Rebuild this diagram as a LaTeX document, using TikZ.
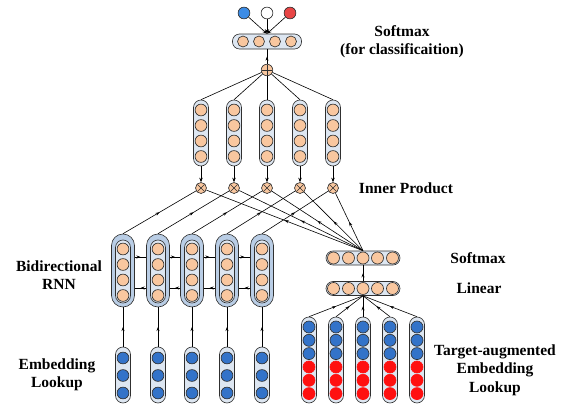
\documentclass[tikz,border=0pt]{standalone}
\usepackage{fontspec}
\setmainfont{Liberation Serif}
\usetikzlibrary{arrows.meta,decorations.markings}
\definecolor{peach}{HTML}{F9C79F}
\definecolor{capfill}{HTML}{DDE6F1}
\definecolor{capdark}{HTML}{B9CDE5}
\definecolor{bluec}{HTML}{3373C9}
\definecolor{redc}{HTML}{FF1010}
\definecolor{topblue}{HTML}{3C8CE6}
\definecolor{topred}{HTML}{E84545}
\definecolor{edge}{HTML}{303030}
\tikzset{
  unit/.style={circle,draw=edge,line width=0.65pt,inner sep=0pt,minimum size=11.8pt},
  pu/.style={unit,fill=peach},
  bu/.style={unit,fill=bluec},
  ru/.style={unit,fill=redc},
  vcap/.style={rectangle,draw=edge,line width=0.6pt,fill=capfill,rounded corners=7.5pt,minimum width=15pt,inner sep=0pt},
  ocap/.style={rectangle,draw=edge,line width=0.6pt,fill=capdark,rounded corners=11.5pt,minimum width=23pt,minimum height=73pt,inner sep=0pt},
  hcap/.style={rectangle,draw=edge,line width=0.6pt,fill=capfill,rounded corners=7pt,minimum height=14pt,inner sep=0pt},
  conn/.style={draw=black,line width=0.6pt},
  tipend/.style={conn,-{Stealth[length=4.5pt,width=3.5pt]}},
  midarrow/.style={conn,postaction={decorate},decoration={markings,mark=at position 0.5 with {\arrow{Stealth[length=4pt,width=3pt]}}}},
  ot/.style={pu,minimum size=11pt,path picture={
     \draw[edge,line width=0.5pt] ([shift={(-3.6pt,-3.6pt)}]path picture bounding box.center) -- ([shift={(3.6pt,3.6pt)}]path picture bounding box.center);
     \draw[edge,line width=0.5pt] ([shift={(-3.6pt,3.6pt)}]path picture bounding box.center) -- ([shift={(3.6pt,-3.6pt)}]path picture bounding box.center);}},
  op/.style={pu,minimum size=11.5pt,path picture={
     \draw[edge,line width=0.5pt] ([xshift=-5.5pt]path picture bounding box.center) -- ([xshift=5.5pt]path picture bounding box.center);
     \draw[edge,line width=0.5pt] ([yshift=-5.5pt]path picture bounding box.center) -- ([yshift=5.5pt]path picture bounding box.center);}},
  lab/.style={font=\fontsize{15.5}{18.5}\selectfont\bfseries,align=center,inner sep=0pt}
}
\begin{document}
\begin{tikzpicture}[x=1pt,y=-1pt]
\useasboundingbox (0,0) rectangle (566,407);

% top output classes
\node[unit,fill=topblue] (cA) at (244,13) {};
\node[unit,fill=white] (cB) at (267,13) {};
\node[unit,fill=topred] (cC) at (290,13) {};

% top softmax capsule
\node[hcap,minimum width=69pt,minimum height=15pt] (tcap) at (267,41.5) {};
\foreach \k/\x in {1/243,2/259,3/275,4/291} \node[pu,minimum size=11pt] (tc\k) at (\x,41.5) {};

\node[op] (plus) at (267,70) {};

% attention columns
\foreach \i/\x in {1/201,2/234,3/267,4/300,5/333} {
  \node[vcap,minimum height=66pt] (col\i) at (\x,133) {};
  \foreach \j/\y in {1/110,2/125.5,3/141,4/156.5} \node[pu] (col\i u\j) at (\x,\y) {};
  \node[ot] (ot\i) at (\x,188) {};
}

% Bidirectional RNN
\foreach \i/\x in {1/123,2/158,3/192,4/227,5/262} {
  \node[ocap] (rnn\i) at (\x,270.5) {};
  \node[vcap,minimum height=63pt] (rin\i) at (\x,271.5) {};
  \foreach \j/\y in {1/249,2/264.5,3/280,4/295.5} \node[pu] (rnn\i u\j) at (\x,\y) {};
  \node[vcap,minimum height=56pt] (emb\i) at (\x,375) {};
  \foreach \j/\y in {1/358,2/375.5,3/393} \node[bu] (emb\i u\j) at (\x,\y) {};
}

% right softmax and linear
\node[hcap,minimum width=74pt] (smx) at (363,258) {};
\foreach \k/\x in {1/333.5,2/348.5,3/363,4/377.5,5/392.5} \node[pu,minimum size=12pt] (smx\k) at (\x,258) {};
\node[hcap,minimum width=74pt] (lin) at (363,288.5) {};
\foreach \k/\x in {1/333.5,2/348.5,3/363,4/377.5,5/392.5} \node[pu,minimum size=12pt] (lin\k) at (\x,288.5) {};

% target-augmented embeddings
\foreach \i/\x in {1/309,2/336,3/363,4/390,5/417} {
  \node[vcap,minimum height=86pt] (tg\i) at (\x,360) {};
  \foreach \j/\y in {1/327,2/340.3,3/353.6} \node[bu,minimum size=12pt] (tg\i b\j) at (\x,\y) {};
  \foreach \j/\y in {1/367,2/380.3,3/393.6} \node[ru,minimum size=12pt,draw=redc] (tg\i r\j) at (\x,\y) {};
}

% connectors
\foreach \c in {cA,cB,cC} \draw[tipend] (\c) -- (tcap.north);
\draw[midarrow] (plus) -- (tcap);
\foreach \i in {1,...,5} {
  \draw[conn] (plus) -- (col\i.north);
  \draw[tipend] (col\i) -- (ot\i);
  \draw[midarrow] (rnn\i.north) -- (ot\i);
  \draw[midarrow] (smx.north) -- (ot\i);
  \draw[midarrow] (emb\i) -- (rnn\i);
  \draw[midarrow] (tg\i.north) -- (lin.south);
}
\foreach \i/\n in {1/2,2/3,3/4,4/5} {
  \draw[midarrow] (rnn\i.east |- 0,257) -- (rnn\n.west |- 0,257);
  \draw[midarrow] (rnn\n.west |- 0,288) -- (rnn\i.east |- 0,288);
}
\draw[midarrow] (lin) -- (smx);

% labels
\node[lab] (l1) at (402,41.5) {Softmax\\(for classificaition)};
\node[lab] (l2) at (406,188) {Inner Product};
\node[lab] (l3) at (59,275) {Bidirectional\\RNN};
\node[lab] (l4) at (57,375) {Embedding\\Lookup};
\node[lab] (l5) at (478,258) {Softmax};
\node[lab] (l6) at (479,288) {Linear};
\node[lab] (l7) at (495,370) {Target-augmented\\Embedding\\Lookup};
\end{tikzpicture}
\end{document}
